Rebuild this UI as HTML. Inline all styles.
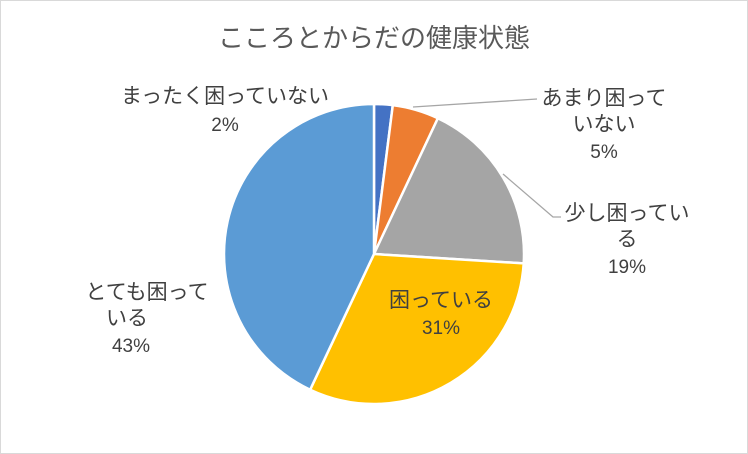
<!DOCTYPE html>
<html><head><meta charset="utf-8"><style>
html,body{margin:0;padding:0;background:#fff}
svg{display:block;font-family:"Liberation Sans","Noto Sans CJK JP",sans-serif}
</style></head><body>
<svg id="chart" width="748" height="454" viewBox="0 0 748 454">
<rect x="0.5" y="0.5" width="747" height="453" fill="#fff" stroke="#d9d9d9"/>
<text x="374" y="47" text-anchor="middle" font-size="26" fill="#595959">こころとからだの健康状態</text>
<g id="slices"></g>
<g stroke="#a6a6a6" stroke-width="1.3" fill="none">
<polyline points="413,107 537,99"/>
<polyline points="503,174 553,217 561,217"/>
</g>
<g font-size="21" fill="#404040" text-anchor="middle">
<text x="225" y="103">まったく困っていない</text>
<text x="225" y="131" font-size="19">2%</text>
<text x="604" y="105">あまり困って</text>
<text x="604" y="131">いない</text>
<text x="604" y="158" font-size="19">5%</text>
<text x="627" y="220">少し困ってい</text>
<text x="627" y="246">る</text>
<text x="627" y="273" font-size="19">19%</text>
<text x="441" y="307">困っている</text>
<text x="441" y="334" font-size="19">31%</text>
<text x="147" y="299">とても困って</text>
<text x="127" y="325">いる</text>
<text x="131" y="352" font-size="19">43%</text>
</g>
</svg>
<script>
const categories=["まったく困っていない","あまり困っていない","少し困っている","困っている","とても困っている"];
const values=[2,5,19,31,43];
const colors=["#4472C4","#ED7D31","#A5A5A5","#FFC000","#5B9BD5"];
const cx=374,cy=254,r=150;
const g=document.getElementById('slices');
const total=values.reduce((a,b)=>a+b,0);
let a0=0;
function pt(a){return [cx+r*Math.sin(a),cy-r*Math.cos(a)];}
values.forEach((v,i)=>{
  const a1=a0+v/total*2*Math.PI;
  const p0=pt(a0),p1=pt(a1);
  const large=(a1-a0)>Math.PI?1:0;
  const p=document.createElementNS('http://www.w3.org/2000/svg','path');
  p.setAttribute('d',`M${cx},${cy} L${p0[0]},${p0[1]} A${r},${r} 0 ${large} 1 ${p1[0]},${p1[1]} Z`);
  p.setAttribute('fill',colors[i]);
  p.setAttribute('stroke','#fff');
  p.setAttribute('stroke-width','2.5');
  
  
  g.appendChild(p);
  a0=a1;
});
</script>
</body></html>
